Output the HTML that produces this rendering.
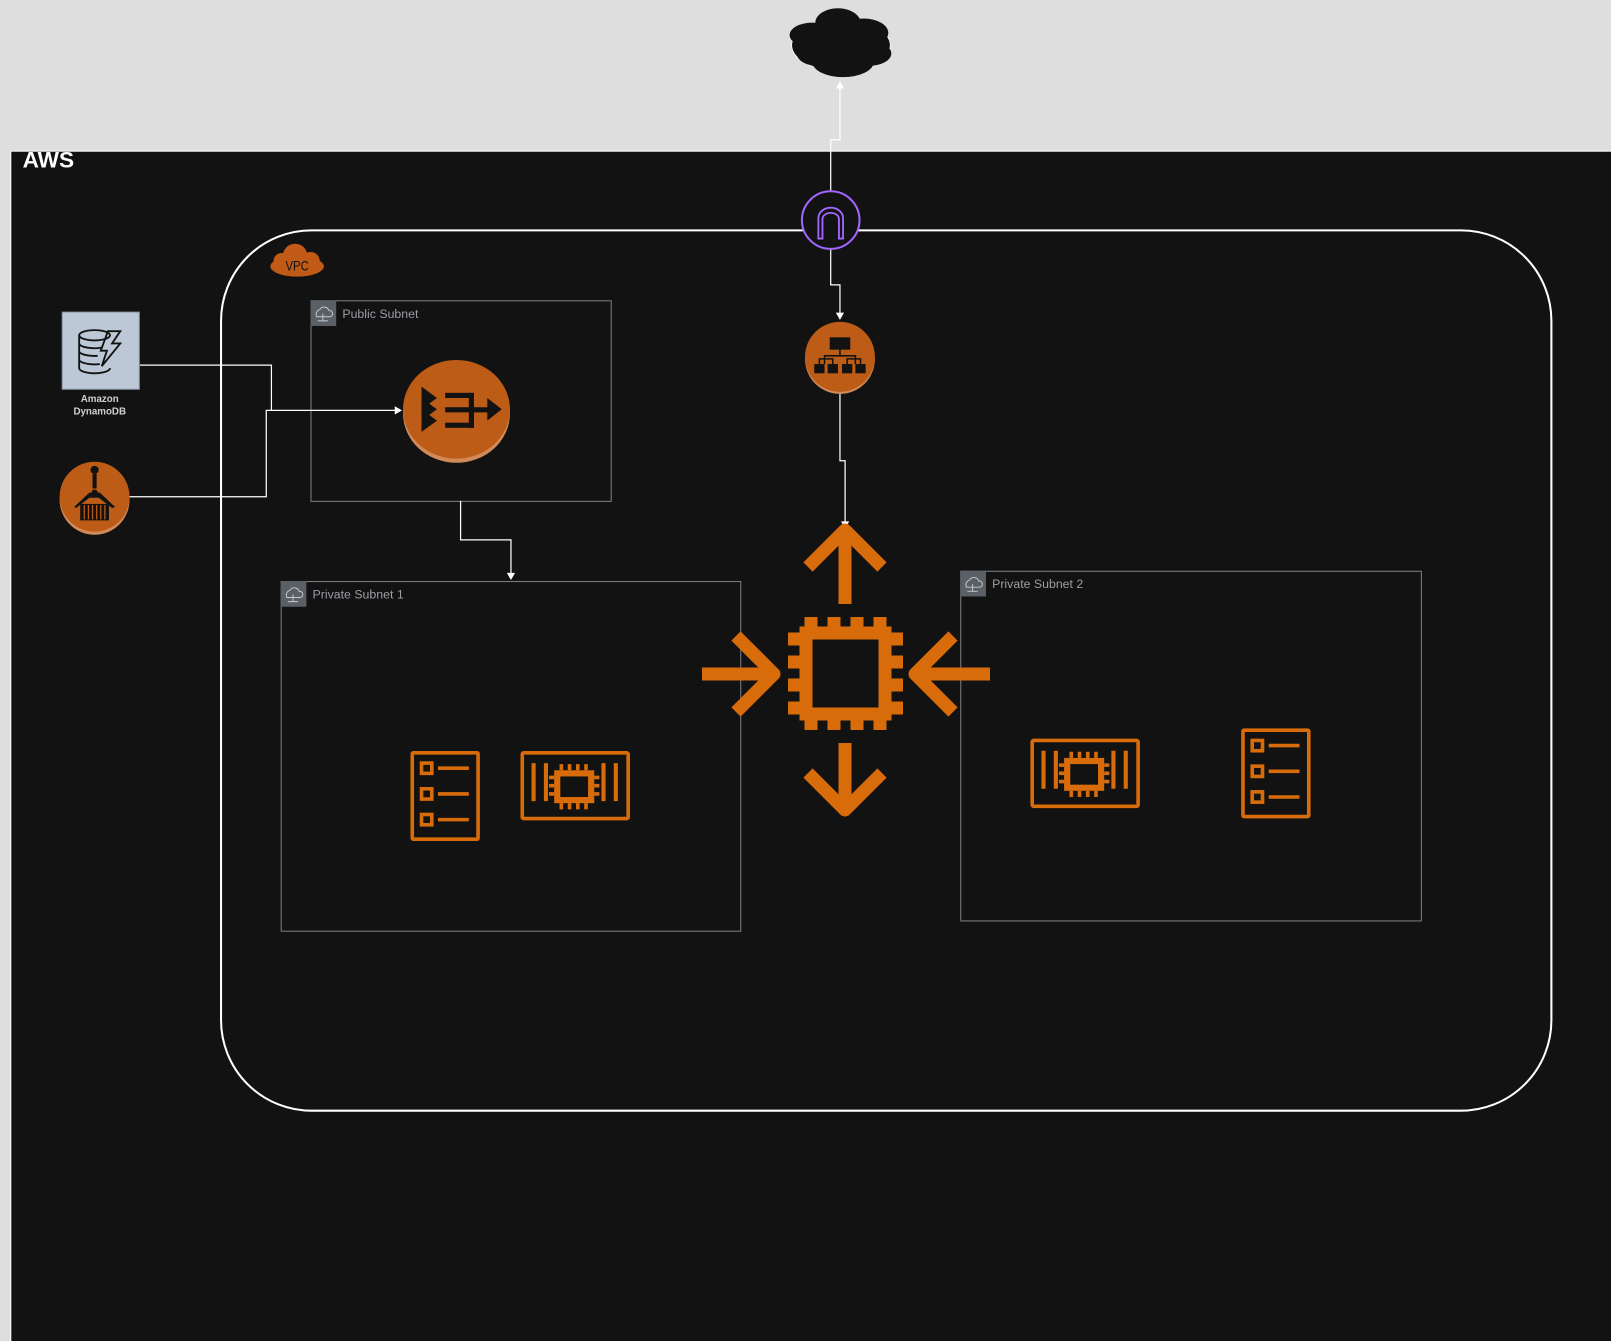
<!DOCTYPE html>
<html><head><meta charset="utf-8"><style>
html,body{margin:0;padding:0;background:#dedede;width:1611px;height:1341px;overflow:hidden}
svg{display:block}
text{font-family:"Liberation Sans",sans-serif}
</style></head><body>
<svg width="1611" height="1341" viewBox="0 0 1611 1341" xmlns="http://www.w3.org/2000/svg">
<rect x="0" y="0" width="1611" height="1341" fill="#dedede"/>
<g transform="scale(1.0281,1.0284)">
  <rect x="10.5" y="147" width="1570" height="1170" fill="#121212" stroke="#ffffff" stroke-width="1"/>
  <text x="22" y="163" font-size="22" font-weight="bold" fill="#fff">AWS</text>
  <g fill="#121212" stroke="#fff" stroke-width="0.8">
    <ellipse cx="818" cy="44" rx="48" ry="25"/>
  </g>
  <g fill="#121212">
    <ellipse cx="790" cy="34" rx="22" ry="12"/>
    <ellipse cx="840" cy="32" rx="24" ry="14"/>
    <ellipse cx="815" cy="22" rx="22" ry="14"/>
    <ellipse cx="795" cy="52" rx="20" ry="12"/>
    <ellipse cx="845" cy="52" rx="22" ry="12"/>
    <ellipse cx="820" cy="60" rx="30" ry="15"/>
  </g>
  <rect x="215" y="224" width="1294" height="856" rx="88" fill="none" stroke="#fff" stroke-width="2"/>
  <g fill="#c05a16">
    <ellipse cx="289" cy="259" rx="26" ry="10"/>
    <circle cx="287" cy="249" r="12"/>
    <circle cx="302" cy="254" r="9"/>
    <circle cx="274" cy="254" r="8"/>
  </g>
  <text x="289" y="263" font-size="13" fill="#111" text-anchor="middle" transform="translate(289 0) scale(0.85 1) translate(-289 0)">VPC</text>
  <g fill="none" stroke="#7b8088" stroke-width="1">
    <rect x="302.5" y="292.5" width="292" height="195"/>
    <rect x="273.5" y="565.5" width="447" height="340"/>
    <rect x="934.5" y="555.5" width="448" height="340"/>
  </g>
  <g fill="#5a6066">
    <rect x="302" y="292" width="25" height="25"/>
    <rect x="273" y="565" width="25" height="25"/>
    <rect x="934" y="555" width="25" height="25"/>
  </g>
  <g fill="none" stroke="#c8ccd0" stroke-width="0.9">
    <path d="M308 308 a5 5 0 0 1 3-7 a5 5 0 0 1 9 1 a3 3 0 0 1 1 6 z M314 305 v7 M309 312 h10"/>
    <path d="M279 581 a5 5 0 0 1 3-7 a5 5 0 0 1 9 1 a3 3 0 0 1 1 6 z M285 578 v7 M280 585 h10"/>
    <path d="M940 571 a5 5 0 0 1 3-7 a5 5 0 0 1 9 1 a3 3 0 0 1 1 6 z M946 568 v7 M941 575 h10"/>
  </g>
  <g font-size="12" fill="#9a9ea4">
    <text x="333" y="309">Public Subnet</text>
    <text x="304" y="582">Private Subnet 1</text>
    <text x="965" y="572">Private Subnet 2</text>
  </g>
  <g fill="none" stroke="#fff" stroke-width="1.2">
    <path d="M808 186 V136 H817 V84"/>
    <path d="M808 242 V277 H817 V305"/>
    <path d="M817 381 V448 H822 V508"/>
    <path d="M448 487 V525 H497 V558"/>
    <path d="M136 355 H264 V399"/>
    <path d="M126 483 H259 V399 H385"/>
  </g>
  <g fill="#fff">
    <path d="M817 79 l-4 7 h8 z"/>
    <path d="M817 311 l-4 -7 h8 z"/>
    <path d="M822 514 l-4 -7 h8 z"/>
    <path d="M497 564 l-4 -7 h8 z"/>
    <path d="M391 399 l-7 -4 v8 z"/>
  </g>
  <circle cx="808" cy="214" r="28" fill="#121212" stroke="#a166ff" stroke-width="2"/>
  <path d="M796 232 V212 a12 10 0 0 1 24 0 V232 h-4 V213 a8 6 0 0 0 -16 0 V232 z" fill="none" stroke="#a166ff" stroke-width="1.8"/>
  <circle cx="817" cy="349" r="34" fill="#d18a5a"/>
  <circle cx="817" cy="347" r="34" fill="#bd5c17"/>
  <g fill="#121212">
    <rect x="807" y="328" width="20" height="12"/>
    <rect x="792" y="354" width="10" height="9"/><rect x="805" y="354" width="10" height="9"/>
    <rect x="819" y="354" width="10" height="9"/><rect x="832" y="354" width="10" height="9"/>
  </g>
  <path d="M817 340 v6 M802 354 v-8 h30 v8 M797 354 v-5 h13 v5 M824 354 v-5 h13 v5" fill="none" stroke="#121212" stroke-width="1.5"/>
  <ellipse cx="444" cy="402" rx="52" ry="48" fill="#d18a5a"/>
  <ellipse cx="444" cy="398" rx="52" ry="48" fill="#bd5c17"/>
  <g fill="#121212">
    <rect x="433" y="382" width="28" height="5"/><rect x="456" y="382" width="5" height="34"/>
    <rect x="433" y="411" width="28" height="5"/><rect x="433" y="396" width="42" height="5"/>
    <path d="M410 376 l15 11 l-15 11 z"/><path d="M410 387 l15 11 l-15 11 z"/><path d="M410 398 l15 11 l-15 11 z"/>
    <path d="M474 387 l14 11 l-14 11 z"/>
  </g>
  <rect x="60.5" y="303.5" width="75" height="75" fill="#bcc8d6" stroke="#8a96a4" stroke-width="1"/>
  <g fill="none" stroke="#121212" stroke-width="1.8">
    <ellipse cx="92" cy="326" rx="15" ry="5"/>
    <path d="M77 326 v32 a15 5 0 0 0 30 0 M77 334 a15 5 0 0 0 22 4 M77 342 a15 5 0 0 0 18 4 M77 350 a15 5 0 0 0 20 4"/>
    <path d="M105 322 h12 l-8 12 h8 l-18 22 l5 -15 h-6 z"/>
  </g>
  <text x="97" y="391" font-size="9.5" font-weight="bold" fill="#d0d0d0" text-anchor="middle">Amazon</text>
  <text x="97" y="403" font-size="9.5" font-weight="bold" fill="#d0d0d0" text-anchor="middle">DynamoDB</text>
  <circle cx="92" cy="486" r="34" fill="#d18a5a"/>
  <circle cx="92" cy="483" r="34" fill="#bd5c17"/>
  <g fill="#121212">
    <circle cx="92" cy="457" r="4"/><rect x="90" y="461" width="4" height="14"/>
    <circle cx="92" cy="479" r="3"/>
    <path d="M72 493 l15 -14 h10 l15 14 l-3 1 l-13 -10 h-9 l-13 10 z"/>
    <rect x="78" y="490" width="28" height="16"/>
  </g>
  <g stroke="#bd5c17" stroke-width="1.2"><path d="M82 491 v14 M86 491 v14 M90 491 v14 M94 491 v14 M98 491 v14 M102 491 v14"/></g>
  <g fill="none" stroke="#d86c0a" stroke-width="3.5">
    <rect x="401" y="732" width="64" height="84" rx="1"/>
    <rect x="410" y="742" width="10" height="10"/><rect x="410" y="767" width="10" height="10"/><rect x="410" y="792" width="10" height="10"/>
    <path d="M426 747 h30 M426 772 h30 M426 797 h30"/>
    <rect x="1209" y="710" width="64" height="84" rx="1"/>
    <rect x="1218" y="720" width="10" height="10"/><rect x="1218" y="745" width="10" height="10"/><rect x="1218" y="770" width="10" height="10"/>
    <path d="M1234 725 h30 M1234 750 h30 M1234 775 h30"/>
  </g>
  <g id="cb" fill="none" stroke="#d86c0a">
    <rect x="508" y="732" width="103" height="64" rx="1.5" stroke-width="3.5"/>
    <path d="M519 742 v37 M531 742 v37 M587 742 v37 M599 742 v37" stroke-width="4"/>
    <rect x="542" y="752" width="33" height="26" stroke-width="6"/>
    <path d="M546 743 v6 M554 743 v6 M562 743 v6 M570 743 v6 M546 781 v6 M554 781 v6 M562 781 v6 M570 781 v6 M534 756 h5 M534 764 h5 M534 772 h5 M578 756 h5 M578 764 h5 M578 772 h5" stroke-width="3.5"/>
  </g>
  <use href="#cb" transform="translate(496,-12)"/>
</g>
<g fill="none" stroke="#d86c0a">
  <rect x="806" y="633" width="79" height="81" stroke-width="13"/>
  <path d="M811 617 v12 M834 617 v12 M857 617 v12 M880 617 v12 M811 718 v12 M834 718 v12 M857 718 v12 M880 718 v12 M788 639 h12 M788 662 h12 M788 685 h12 M788 708 h12 M891 639 h12 M891 662 h12 M891 685 h12 M891 708 h12" stroke-width="13"/>
  <g stroke-width="13" stroke-linejoin="round">
    <path d="M845 604 V535 M808 567 L845 530 L882 567"/>
    <path d="M845 743 V806 M808 773 L845 810 L882 773"/>
    <path d="M702 674 H770 M736 636 L774 674 L736 712"/>
    <path d="M990 674 H920 M953 636 L915 674 L953 712"/>
  </g>
</g>
</svg>
</body></html>
